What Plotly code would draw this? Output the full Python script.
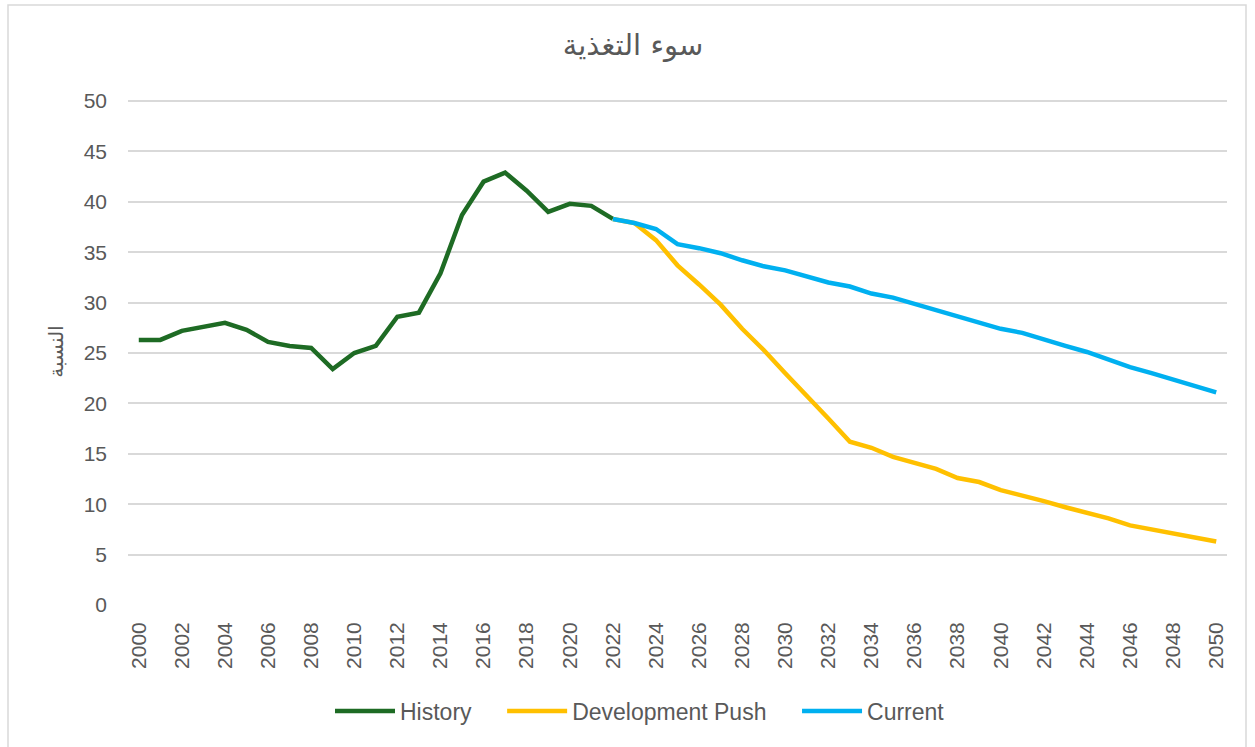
import plotly.graph_objects as go

hist_years = list(range(2000, 2023))
history = [26.3, 26.3, 27.2, 27.6, 28.0, 27.3, 26.1, 25.7, 25.5, 23.4, 25.0, 25.7,
           28.6, 29.0, 32.9, 38.7, 42.0, 42.9, 41.1, 39.0, 39.8, 39.6, 38.3]

proj_years = list(range(2022, 2051))
dev_push = [38.3, 37.9, 36.2, 33.7, 31.8, 29.8, 27.4, 25.3, 23.0, 20.8, 18.5, 16.2,
            15.6, 14.7, 14.1, 13.5, 12.6, 12.2, 11.4, 10.9, 10.3, 9.7, 9.2, 8.6,
            7.9, 7.5, 7.0, 6.6, 6.3]
current = [38.3, 37.9, 37.3, 35.8, 35.4, 34.9, 34.2, 33.6, 33.2, 32.6, 32.0, 31.6,
           30.9, 30.5, 29.9, 29.2, 28.6, 28.0, 27.4, 27.0, 26.3, 25.7, 25.1, 24.3,
           23.6, 23.0, 22.4, 21.7, 21.1]

title_text = "سوء التغذية"
y_title = "النسبة"
x_ticks = list(range(2000, 2051, 2))
y_ticks = list(range(0, 51, 5))
legend_names = ["History", "Development Push", "Current"]
pad = "\u00a0" * 4

fig = go.Figure()
fig.add_trace(go.Scatter(x=hist_years, y=history, mode="lines", name=legend_names[0] + pad,
                         line=dict(color="#1E6B24", width=4.5)))
fig.add_trace(go.Scatter(x=proj_years, y=dev_push, mode="lines", name=legend_names[1] + pad,
                         line=dict(color="#FFC000", width=4.5)))
fig.add_trace(go.Scatter(x=proj_years, y=current, mode="lines", name=legend_names[2],
                         line=dict(color="#00B0F0", width=4.5)))

grey = "#595959"
top_px = 98
plot_h = 605 - top_px
fig.update_layout(
    width=1255, height=747,
    paper_bgcolor="white", plot_bgcolor="white",
    margin=dict(l=128, r=28, t=top_px, b=142),
    font=dict(family="Liberation Sans, Arial", color=grey),
    title=dict(text=title_text, x=633 / 1255, xanchor="center", y=1 - 45 / 747,
               yanchor="middle", font=dict(size=29, color=grey,
                                           family="DejaVu Sans, Liberation Sans")),
    xaxis=dict(range=[1999.5, 2050.5], tickmode="array", tickvals=x_ticks,
               ticktext=[str(v) for v in x_ticks], tickangle=-90,
               tickfont=dict(size=21, color=grey), showgrid=False, zeroline=False,
               showline=False, ticks="", ticklabelstandoff=12),
    yaxis=dict(range=[0, 50.3], tickmode="array", tickvals=y_ticks,
               tickfont=dict(size=21, color=grey), showgrid=True, gridcolor="#D9D9D9",
               gridwidth=1.5, zeroline=False, showline=False, ticks="",
               ticklabelstandoff=20,
               title=dict(text=y_title, font=dict(size=20, color=grey,
                                                  family="DejaVu Sans, Liberation Sans"),
                          standoff=14)),
    legend=dict(orientation="h", x=(640 - 128) / 1099, xanchor="center",
                y=-(711 - 605) / plot_h, yanchor="middle",
                font=dict(size=23, color=grey), itemwidth=60, traceorder="normal"),
    showlegend=True,
    shapes=[dict(type="rect", xref="paper", yref="paper",
                 x0=(8 - 128) / 1099, x1=(1246 - 128) / 1099,
                 y0=-(760 - 605) / plot_h, y1=1 + (top_px - 5) / plot_h,
                 line=dict(color="#D9D9D9", width=1.5), fillcolor="rgba(0,0,0,0)",
                 layer="below")],
)

fig.write_html("out.html", config={"displayModeBar": False},
               post_script="document.body.style.margin='0';document.body.style.overflow='hidden';")
